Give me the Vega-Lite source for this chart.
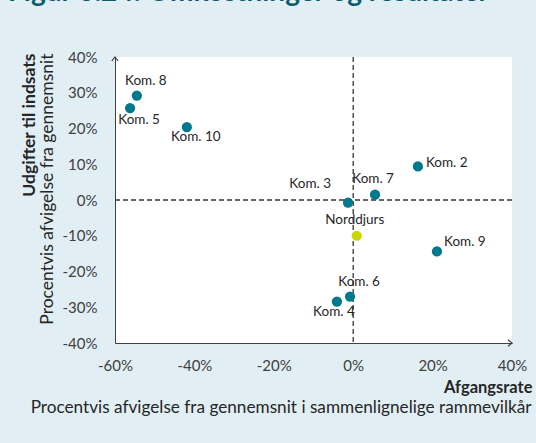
{
  "$schema": "https://vega.github.io/schema/vega-lite/v6.json",
  "width": 397,
  "height": 286,
  "autosize": {"type": "none"},
  "padding": {"left": 115, "top": 57, "right": 24, "bottom": 100},
  "background": "#e1eff4",
  "view": {"fill": "white", "stroke": null},
  "config": {
    "font": "Lato",
    "axis": {"grid": false, "ticks": false, "domain": true, "domainWidth": 1, "domainColor": "#404040", "labelColor": "#404040", "labelFont": "Lato", "titleFont": "Lato", "titleColor": "#262626", "labelFlush": false, "labelOverlap": false}
  },
  "title": {
    "text": "Figur 6.24: Omkostninger og resultater",
    "anchor": "start",
    "frame": "group",
    "fontSize": 28,
    "fontWeight": "bold",
    "color": "#0e5b70",
    "font": "Lato",
    "baseline": "alphabetic",
    "offset": 0,
    "dx": -107,
    "dy": -21
  },
  "datasets": {
    "pts": [
      {"name": "Kom. 8", "x": -54.5, "y": 29.2, "type": "Kommune"},
      {"name": "Kom. 5", "x": -56.2, "y": 25.7, "type": "Kommune"},
      {"name": "Kom. 10", "x": -41.9, "y": 20.4, "type": "Kommune"},
      {"name": "Kom. 2", "x": 16.3, "y": 9.4, "type": "Kommune"},
      {"name": "Kom. 7", "x": 5.5, "y": 1.5, "type": "Kommune"},
      {"name": "Kom. 3", "x": -1.3, "y": -0.7, "type": "Kommune"},
      {"name": "Norddjurs", "x": 0.9, "y": -10.0, "type": "Norddjurs"},
      {"name": "Kom. 9", "x": 21.1, "y": -14.4, "type": "Kommune"},
      {"name": "Kom. 6", "x": -0.8, "y": -27.0, "type": "Kommune"},
      {"name": "Kom. 4", "x": -4.1, "y": -28.4, "type": "Kommune"}
    ],
    "zero": [{"x": 0, "y": 0}],
    "arrows": [
      {"x": -60, "y": 40, "dir": "up"},
      {"x": 40, "y": -40, "dir": "right"}
    ]
  },
  "layer": [
    {
      "data": {"name": "zero"},
      "mark": {"type": "rule", "strokeDash": [5, 3], "stroke": "#333333", "strokeWidth": 1.3},
      "encoding": {"x": {"field": "x", "type": "quantitative", "axis": null}}
    },
    {
      "data": {"name": "zero"},
      "mark": {"type": "rule", "strokeDash": [5, 3], "stroke": "#333333", "strokeWidth": 1.3},
      "encoding": {"y": {"field": "y", "type": "quantitative", "axis": null}}
    },
    {
      "data": {"name": "pts"},
      "mark": {"type": "circle", "size": 105, "opacity": 1},
      "encoding": {
        "x": {
          "field": "x", "type": "quantitative",
          "scale": {"domain": [-60, 40], "nice": false, "zero": false},
          "axis": {
            "orient": "bottom", "values": [-60, -40, -20, 0, 20, 40], "domain": true,
            "labelExpr": "datum.value + '%'", "labelPadding": 15, "labelFontSize": 15,
            "title": "Afgangsrate", "titleFontWeight": "bold", "titleFontSize": 16.5,
            "titleAlign": "right", "titleX": 417, "titleY": 44, "titleBaseline": "middle", "titleAngle": 0
          }
        },
        "y": {
          "field": "y", "type": "quantitative",
          "scale": {"domain": [-40, 40], "nice": false, "zero": false},
          "axis": {
            "orient": "left", "values": [-40, -30, -20, -10, 0, 10, 20, 30, 40], "domain": true,
            "labelExpr": "datum.value + '%'", "labelPadding": 18, "labelFontSize": 15,
            "title": "Udgifter til indsats", "titleFontWeight": "bold", "titleFontSize": 17.5,
            "titleAngle": 270, "titleAlign": "right", "titleBaseline": "middle", "titleX": -86, "titleY": -4
          }
        },
        "color": {
          "field": "type", "type": "nominal",
          "scale": {"domain": ["Kommune", "Norddjurs"], "range": ["#00798c", "#c9d600"]},
          "legend": null
        }
      }
    },
    {
      "data": {"name": "pts"},
      "transform": [{"filter": {"field": "name", "oneOf": ["Kom. 8", "Kom. 6"]}}],
      "mark": {"type": "text", "align": "center", "baseline": "middle", "dx": 9, "dy": -15, "fontSize": 13.5, "color": "#262626"},
      "encoding": {
        "x": {
          "field": "x", "type": "quantitative",
          "axis": {
            "orient": "bottom", "labels": false, "domain": false, "ticks": false,
            "title": "Procentvis afvigelse fra gennemsnit i sammenlignelige rammevilkår",
            "titleFontWeight": "normal", "titleFontSize": 17.2, "titleAlign": "right",
            "titleX": 416, "titleY": 64, "titleBaseline": "middle", "titleAngle": 0
          }
        },
        "y": {
          "field": "y", "type": "quantitative",
          "axis": {
            "orient": "left", "labels": false, "domain": false, "ticks": false,
            "title": "Procentvis afvigelse fra gennemsnit",
            "titleFontWeight": "normal", "titleFontSize": 17.5, "titleAngle": 270,
            "titleAlign": "right", "titleBaseline": "middle", "titleX": -68, "titleY": -4
          }
        },
        "text": {"field": "name"}
      }
    },
    {
      "data": {"name": "pts"},
      "transform": [{"filter": {"field": "name", "oneOf": ["Kom. 7", "Norddjurs"]}}],
      "mark": {"type": "text", "align": "center", "baseline": "middle", "dx": -2, "dy": -16, "fontSize": 13.5, "color": "#262626"},
      "encoding": {
        "x": {"field": "x", "type": "quantitative", "axis": null},
        "y": {"field": "y", "type": "quantitative", "axis": null},
        "text": {"field": "name"}
      }
    },
    {
      "data": {"name": "pts"},
      "transform": [{"filter": {"field": "name", "oneOf": ["Kom. 5"]}}],
      "mark": {"type": "text", "align": "center", "baseline": "middle", "dx": 9, "dy": 12, "fontSize": 13.5, "color": "#262626"},
      "encoding": {
        "x": {"field": "x", "type": "quantitative", "axis": null},
        "y": {"field": "y", "type": "quantitative", "axis": null},
        "text": {"field": "name"}
      }
    },
    {
      "data": {"name": "pts"},
      "transform": [{"filter": {"field": "name", "oneOf": ["Kom. 10"]}}],
      "mark": {"type": "text", "align": "center", "baseline": "middle", "dx": 9, "dy": 10, "fontSize": 13.5, "color": "#262626"},
      "encoding": {
        "x": {"field": "x", "type": "quantitative", "axis": null},
        "y": {"field": "y", "type": "quantitative", "axis": null},
        "text": {"field": "name"}
      }
    },
    {
      "data": {"name": "pts"},
      "transform": [{"filter": {"field": "name", "oneOf": ["Kom. 4"]}}],
      "mark": {"type": "text", "align": "center", "baseline": "middle", "dx": -3, "dy": 10, "fontSize": 13.5, "color": "#262626"},
      "encoding": {
        "x": {"field": "x", "type": "quantitative", "axis": null},
        "y": {"field": "y", "type": "quantitative", "axis": null},
        "text": {"field": "name"}
      }
    },
    {
      "data": {"name": "pts"},
      "transform": [{"filter": {"field": "name", "oneOf": ["Kom. 2"]}}],
      "mark": {"type": "text", "align": "left", "baseline": "middle", "dx": 8, "dy": -3, "fontSize": 13.5, "color": "#262626"},
      "encoding": {
        "x": {"field": "x", "type": "quantitative", "axis": null},
        "y": {"field": "y", "type": "quantitative", "axis": null},
        "text": {"field": "name"}
      }
    },
    {
      "data": {"name": "pts"},
      "transform": [{"filter": {"field": "name", "oneOf": ["Kom. 9"]}}],
      "mark": {"type": "text", "align": "left", "baseline": "middle", "dx": 7, "dy": -9, "fontSize": 13.5, "color": "#262626"},
      "encoding": {
        "x": {"field": "x", "type": "quantitative", "axis": null},
        "y": {"field": "y", "type": "quantitative", "axis": null},
        "text": {"field": "name"}
      }
    },
    {
      "data": {"name": "pts"},
      "transform": [{"filter": {"field": "name", "oneOf": ["Kom. 3"]}}],
      "mark": {"type": "text", "align": "right", "baseline": "middle", "dx": -17, "dy": -19, "fontSize": 13.5, "color": "#262626"},
      "encoding": {
        "x": {"field": "x", "type": "quantitative", "axis": null},
        "y": {"field": "y", "type": "quantitative", "axis": null},
        "text": {"field": "name"}
      }
    },
    {
      "data": {"name": "arrows"},
      "mark": {"type": "point", "filled": false, "stroke": "#404040", "strokeWidth": 1.2, "size": 64, "opacity": 1},
      "encoding": {
        "x": {"field": "x", "type": "quantitative", "axis": null},
        "y": {"field": "y", "type": "quantitative", "axis": null},
        "shape": {
          "field": "dir", "type": "nominal",
          "scale": {"domain": ["up", "right"], "range": ["M-0.8,1L0,0L0.8,1", "M-1,-0.8L0,0L-1,0.8"]},
          "legend": null
        }
      }
    }
  ],
  "resolve": {"axis": {"x": "independent", "y": "independent"}}
}
